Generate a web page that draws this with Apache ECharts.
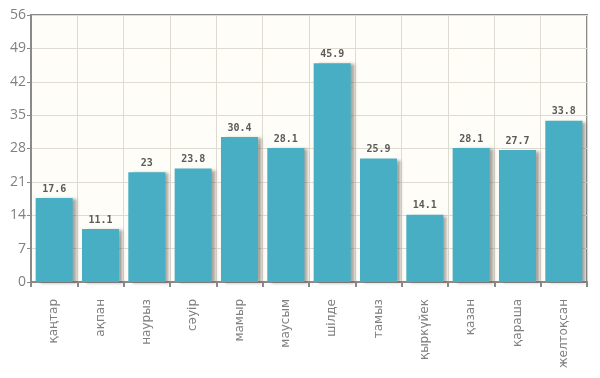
<!DOCTYPE html>
<html>
<head>
<meta charset="utf-8">
<script src="https://cdn.jsdelivr.net/npm/echarts@6/dist/echarts.min.js"></script>
<style>
html, body { margin: 0; padding: 0; background: #fff; }
#chart { width: 600px; height: 378px; }
</style>
</head>
<body>
<div id="chart"></div>
<script>
var months = ['қаңтар', 'ақпан', 'наурыз', 'сәуір', 'мамыр', 'маусым', 'шілде', 'тамыз', 'қыркүйек', 'қазан', 'қараша', 'желтоқсан'];
var values = [17.6, 11.1, 23, 23.8, 30.4, 28.1, 45.9, 25.9, 14.1, 28.1, 27.7, 33.8];
var yTicks = [0, 7, 14, 21, 28, 35, 42, 49, 56];

var myChart = echarts.init(document.getElementById('chart'));

var option = {
    animation: false,
    grid: {
        left: 31,
        right: 13,
        top: 15,
        bottom: 96,
        show: true,
        backgroundColor: '#fffdf8',
        borderColor: '#8a8a8a',
        borderWidth: 2
    },
    xAxis: {
        type: 'category',
        data: months,
        axisLine: { lineStyle: { color: '#8a8a8a', width: 2 } },
        axisTick: { show: true, length: 5, lineStyle: { color: '#8a8a8a', width: 2 } },
        splitLine: { show: true, lineStyle: { color: '#dedbd3' } },
        axisLabel: {
            rotate: 90,
            interval: 0,
            margin: 17,
            color: '#808080',
            fontSize: 12,
            fontFamily: 'DejaVu Sans'
        }
    },
    yAxis: {
        type: 'value',
        min: yTicks[0],
        max: yTicks[yTicks.length - 1],
        interval: 7,
        axisLine: { show: true, lineStyle: { color: '#8a8a8a', width: 2 } },
        axisTick: { show: true, length: 4, lineStyle: { color: '#8a8a8a' } },
        splitLine: { show: true, lineStyle: { color: '#dedbd3' } },
        axisLabel: {
            color: '#808080',
            fontSize: 14,
            margin: 5,
            fontFamily: 'Open Sans'
        }
    },
    series: [{
        type: 'bar',
        data: values,
        barWidth: '80%',
        itemStyle: {
            color: '#48aec4',
            shadowColor: 'rgba(90,80,70,0.5)',
            shadowBlur: 3,
            shadowOffsetX: 4,
            shadowOffsetY: 1
        },
        label: {
            show: true,
            position: 'top',
            distance: 4,
            color: '#5a5a5a',
            fontSize: 10,
            fontWeight: 'bold',
            fontFamily: 'DejaVu Sans Mono'
        }
    }]
};

myChart.setOption(option);
window.addEventListener('resize', function () {
    myChart.resize();
});
</script>
</body>
</html>
